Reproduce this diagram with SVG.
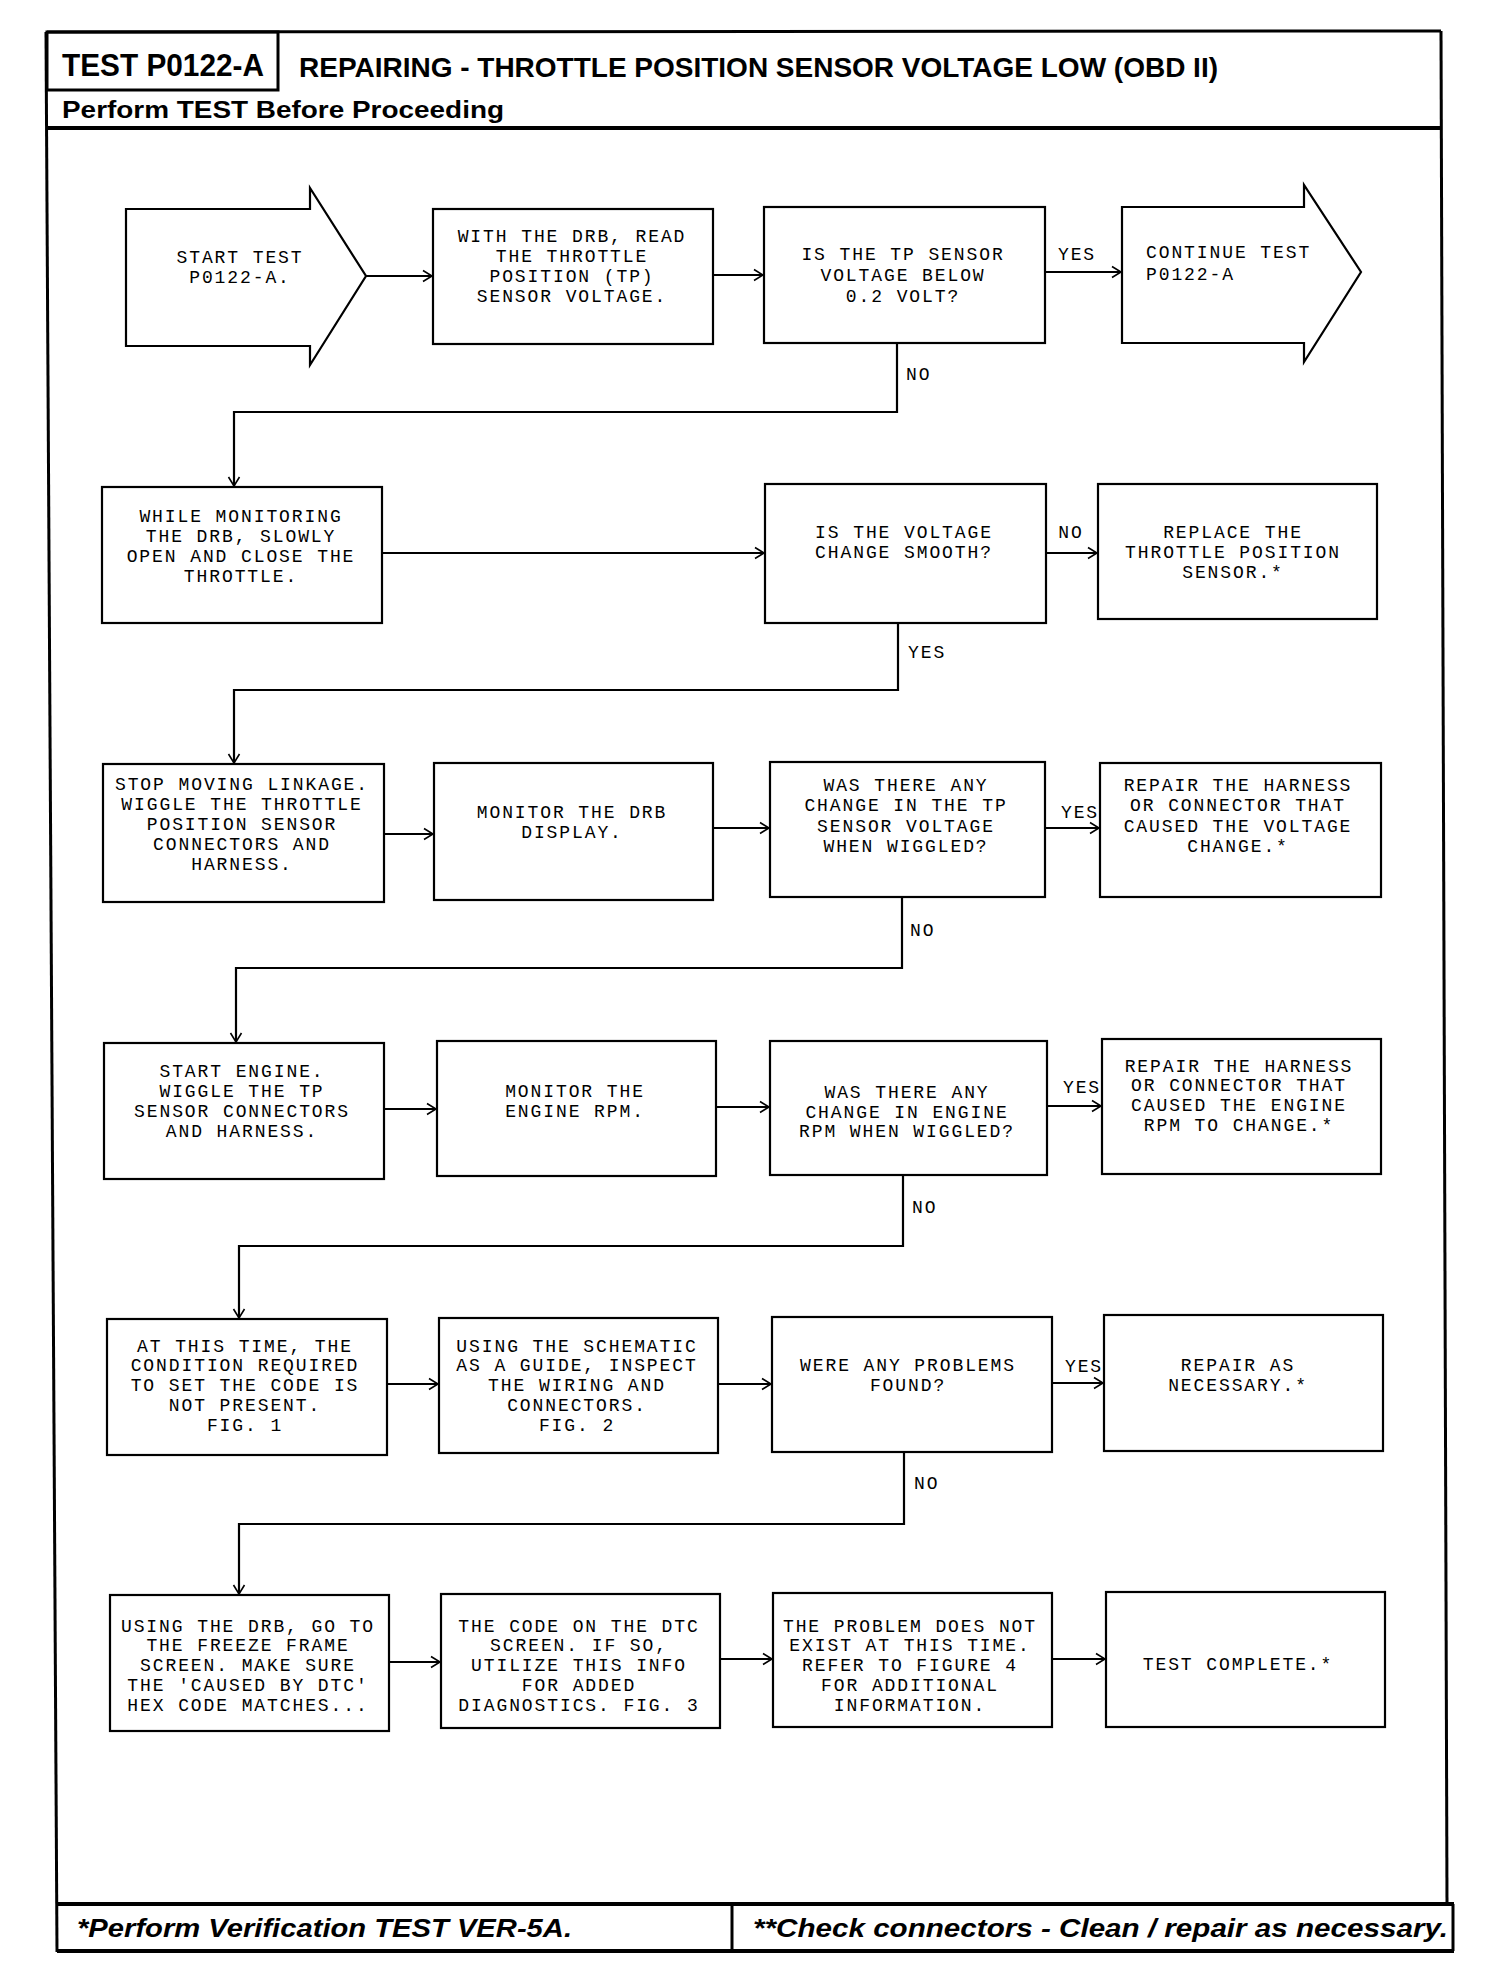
<svg xmlns="http://www.w3.org/2000/svg" width="1504" height="1980" viewBox="0 0 1504 1980">
<defs>
<style>
.frame{fill:none;stroke:#000;stroke-width:3}
.thick{fill:none;stroke:#000;stroke-width:4}
.box{fill:#fff;stroke:#000;stroke-width:2.2}
.t{font-family:"Liberation Mono","DejaVu Sans Mono",monospace;font-size:18px;letter-spacing:1.9px;text-anchor:middle;fill:#000}
.ls{text-anchor:start}
.conn{fill:none;stroke:#000;stroke-width:2.2;marker-end:url(#ah)}
.hd{font-family:"Liberation Sans","Arial",sans-serif;font-weight:bold;fill:#000}
.ft{font-family:"Liberation Sans","Arial",sans-serif;font-weight:bold;font-style:italic;fill:#000}
</style>
<marker id="ah" markerUnits="userSpaceOnUse" markerWidth="14" markerHeight="14" refX="11" refY="7" orient="auto">
<path d="M2,1.5 L11,7 L2,12.5" fill="none" stroke="#000" stroke-width="1.6"/>
</marker>
</defs>
<rect width="1504" height="1980" fill="#fff"/>

<g id="page-frame">
<line class="frame" x1="47" y1="32" x2="1441" y2="31"/>
<line class="frame" x1="46" y1="32" x2="57" y2="1952"/>
<line class="frame" x1="1441" y1="31" x2="1447" y2="1903"/>
<rect class="frame" x="47" y="32" width="231" height="58"/>
<line class="thick" x1="47" y1="128" x2="1442" y2="128"/>
<line class="thick" x1="57" y1="1904" x2="1454" y2="1904"/>
<line class="thick" x1="57" y1="1951" x2="1454" y2="1951"/>
<line class="frame" x1="1453" y1="1904" x2="1453" y2="1951"/>
<line class="frame" x1="732" y1="1904" x2="732" y2="1951"/>
</g>

<g id="header">
<text class="hd" x="62" y="76" font-size="32" textLength="202" lengthAdjust="spacingAndGlyphs">TEST P0122-A</text>
<text class="hd" x="299" y="77" font-size="28" textLength="919" lengthAdjust="spacingAndGlyphs">REPAIRING - THROTTLE POSITION SENSOR VOLTAGE LOW (OBD II)</text>
<text class="hd" x="62" y="118" font-size="24" textLength="442" lengthAdjust="spacingAndGlyphs">Perform TEST Before Proceeding</text>
</g>

<g id="footer">
<text class="ft" x="77" y="1937" font-size="26" textLength="495" lengthAdjust="spacingAndGlyphs">*Perform Verification TEST VER-5A.</text>
<text class="ft" x="753" y="1937" font-size="26" textLength="695" lengthAdjust="spacingAndGlyphs">**Check connectors - Clean / repair as necessary.</text>
</g>

<g id="connectors">
<path class="conn" d="M366,276 H432"/>
<path class="conn" d="M713,275 H763"/>
<path class="conn" d="M1045,272 H1121"/>
<path class="conn" d="M897,343 V412 H234 V486"/>
<path class="conn" d="M382,553 H764"/>
<path class="conn" d="M1046,553 H1097"/>
<path class="conn" d="M898,623 V690 H234 V763"/>
<path class="conn" d="M384,834 H433"/>
<path class="conn" d="M713,828 H769"/>
<path class="conn" d="M1045,828 H1099"/>
<path class="conn" d="M902,897 V968 H236 V1042"/>
<path class="conn" d="M384,1109 H436"/>
<path class="conn" d="M716,1107 H769"/>
<path class="conn" d="M1047,1106 H1101"/>
<path class="conn" d="M903,1175 V1246 H239 V1318"/>
<path class="conn" d="M387,1384 H438"/>
<path class="conn" d="M718,1384 H771"/>
<path class="conn" d="M1052,1383 H1103"/>
<path class="conn" d="M904,1452 V1524 H239 V1594"/>
<path class="conn" d="M389,1662 H440"/>
<path class="conn" d="M720,1659 H772"/>
<path class="conn" d="M1052,1659 H1105"/>
<text class="t" x="1077" y="260">YES</text>
<text class="t ls" x="906" y="380">NO</text>
<text class="t" x="1071" y="538">NO</text>
<text class="t ls" x="908" y="658">YES</text>
<text class="t" x="1080" y="818">YES</text>
<text class="t ls" x="910" y="936">NO</text>
<text class="t" x="1082" y="1093">YES</text>
<text class="t ls" x="912" y="1213">NO</text>
<text class="t" x="1084" y="1372">YES</text>
<text class="t ls" x="914" y="1489">NO</text>
</g>

<g id="start">
<polygon class="box" points="126,209 310,209 310,188 366,276 310,365 310,346 126,346"/>
<text class="t" x="240" y="263">START TEST</text>
<text class="t" x="240" y="283">P0122-A.</text>
</g>
<g id="read-tp">
<rect class="box" x="433" y="209" width="280" height="135"/>
<text class="t" x="572" y="242">WITH THE DRB, READ</text>
<text class="t" x="572" y="262">THE THROTTLE</text>
<text class="t" x="572" y="282">POSITION (TP)</text>
<text class="t" x="572" y="302">SENSOR VOLTAGE.</text>
</g>
<g id="q-below">
<rect class="box" x="764" y="207" width="281" height="136"/>
<text class="t" x="903" y="260">IS THE TP SENSOR</text>
<text class="t" x="903" y="281">VOLTAGE BELOW</text>
<text class="t" x="903" y="302">0.2 VOLT?</text>
</g>
<g id="continue">
<polygon class="box" points="1122,207 1304,207 1304,185 1361,272 1304,362 1304,343 1122,343"/>
<text class="t ls" x="1146" y="258">CONTINUE TEST</text>
<text class="t ls" x="1146" y="280">P0122-A</text>
</g>

<g id="monitor-throttle">
<rect class="box" x="102" y="487" width="280" height="136"/>
<text class="t" x="241" y="522">WHILE MONITORING</text>
<text class="t" x="241" y="542">THE DRB, SLOWLY</text>
<text class="t" x="241" y="562">OPEN AND CLOSE THE</text>
<text class="t" x="241" y="582">THROTTLE.</text>
</g>
<g id="q-smooth">
<rect class="box" x="765" y="484" width="281" height="139"/>
<text class="t" x="904" y="538">IS THE VOLTAGE</text>
<text class="t" x="904" y="558">CHANGE SMOOTH?</text>
</g>
<g id="replace-tps">
<rect class="box" x="1098" y="484" width="279" height="135"/>
<text class="t" x="1233" y="538">REPLACE THE</text>
<text class="t" x="1233" y="558">THROTTLE POSITION</text>
<text class="t" x="1233" y="578">SENSOR.*</text>
</g>

<g id="wiggle-tps">
<rect class="box" x="103" y="764" width="281" height="138"/>
<text class="t" x="242" y="790">STOP MOVING LINKAGE.</text>
<text class="t" x="242" y="810">WIGGLE THE THROTTLE</text>
<text class="t" x="242" y="830">POSITION SENSOR</text>
<text class="t" x="242" y="850">CONNECTORS AND</text>
<text class="t" x="242" y="870">HARNESS.</text>
</g>
<g id="monitor-display">
<rect class="box" x="434" y="763" width="279" height="137"/>
<text class="t" x="572" y="818">MONITOR THE DRB</text>
<text class="t" x="572" y="838">DISPLAY.</text>
</g>
<g id="q-voltage-change">
<rect class="box" x="770" y="762" width="275" height="135"/>
<text class="t" x="906" y="791">WAS THERE ANY</text>
<text class="t" x="906" y="811">CHANGE IN THE TP</text>
<text class="t" x="906" y="832">SENSOR VOLTAGE</text>
<text class="t" x="906" y="852">WHEN WIGGLED?</text>
</g>
<g id="repair-voltage">
<rect class="box" x="1100" y="763" width="281" height="134"/>
<text class="t" x="1238" y="791">REPAIR THE HARNESS</text>
<text class="t" x="1238" y="811">OR CONNECTOR THAT</text>
<text class="t" x="1238" y="832">CAUSED THE VOLTAGE</text>
<text class="t" x="1238" y="852">CHANGE.*</text>
</g>

<g id="start-engine">
<rect class="box" x="104" y="1043" width="280" height="136"/>
<text class="t" x="242" y="1077">START ENGINE.</text>
<text class="t" x="242" y="1097">WIGGLE THE TP</text>
<text class="t" x="242" y="1117">SENSOR CONNECTORS</text>
<text class="t" x="242" y="1137">AND HARNESS.</text>
</g>
<g id="monitor-rpm">
<rect class="box" x="437" y="1041" width="279" height="135"/>
<text class="t" x="575" y="1097">MONITOR THE</text>
<text class="t" x="575" y="1117">ENGINE RPM.</text>
</g>
<g id="q-rpm-change">
<rect class="box" x="770" y="1041" width="277" height="134"/>
<text class="t" x="907" y="1098">WAS THERE ANY</text>
<text class="t" x="907" y="1118">CHANGE IN ENGINE</text>
<text class="t" x="907" y="1137">RPM WHEN WIGGLED?</text>
</g>
<g id="repair-rpm">
<rect class="box" x="1102" y="1039" width="279" height="135"/>
<text class="t" x="1239" y="1072">REPAIR THE HARNESS</text>
<text class="t" x="1239" y="1091">OR CONNECTOR THAT</text>
<text class="t" x="1239" y="1111">CAUSED THE ENGINE</text>
<text class="t" x="1239" y="1131">RPM TO CHANGE.*</text>
</g>

<g id="not-present">
<rect class="box" x="107" y="1319" width="280" height="136"/>
<text class="t" x="245" y="1352">AT THIS TIME, THE</text>
<text class="t" x="245" y="1371">CONDITION REQUIRED</text>
<text class="t" x="245" y="1391">TO SET THE CODE IS</text>
<text class="t" x="245" y="1411">NOT PRESENT.</text>
<text class="t" x="245" y="1431">FIG. 1</text>
</g>
<g id="inspect-wiring">
<rect class="box" x="439" y="1318" width="279" height="135"/>
<text class="t" x="577" y="1352">USING THE SCHEMATIC</text>
<text class="t" x="577" y="1371">AS A GUIDE, INSPECT</text>
<text class="t" x="577" y="1391">THE WIRING AND</text>
<text class="t" x="577" y="1411">CONNECTORS.</text>
<text class="t" x="577" y="1431">FIG. 2</text>
</g>
<g id="q-problems">
<rect class="box" x="772" y="1317" width="280" height="135"/>
<text class="t" x="908" y="1371">WERE ANY PROBLEMS</text>
<text class="t" x="908" y="1391">FOUND?</text>
</g>
<g id="repair-necessary">
<rect class="box" x="1104" y="1315" width="279" height="136"/>
<text class="t" x="1238" y="1371">REPAIR AS</text>
<text class="t" x="1238" y="1391">NECESSARY.*</text>
</g>

<g id="freeze-frame">
<rect class="box" x="110" y="1595" width="279" height="136"/>
<text class="t" x="248" y="1632">USING THE DRB, GO TO</text>
<text class="t" x="248" y="1651">THE FREEZE FRAME</text>
<text class="t" x="248" y="1671">SCREEN. MAKE SURE</text>
<text class="t" x="248" y="1691">THE 'CAUSED BY DTC'</text>
<text class="t" x="248" y="1711">HEX CODE MATCHES...</text>
</g>
<g id="dtc-screen">
<rect class="box" x="441" y="1594" width="279" height="134"/>
<text class="t" x="579" y="1632">THE CODE ON THE DTC</text>
<text class="t" x="579" y="1651">SCREEN. IF SO,</text>
<text class="t" x="579" y="1671">UTILIZE THIS INFO</text>
<text class="t" x="579" y="1691">FOR ADDED</text>
<text class="t" x="579" y="1711">DIAGNOSTICS.  FIG. 3</text>
</g>
<g id="no-problem">
<rect class="box" x="773" y="1593" width="279" height="134"/>
<text class="t" x="910" y="1632">THE PROBLEM DOES NOT</text>
<text class="t" x="910" y="1651">EXIST AT THIS TIME.</text>
<text class="t" x="910" y="1671">REFER TO FIGURE 4</text>
<text class="t" x="910" y="1691">FOR ADDITIONAL</text>
<text class="t" x="910" y="1711">INFORMATION.</text>
</g>
<g id="test-complete">
<rect class="box" x="1106" y="1592" width="279" height="135"/>
<text class="t" x="1238" y="1670">TEST COMPLETE.*</text>
</g>
</svg>
